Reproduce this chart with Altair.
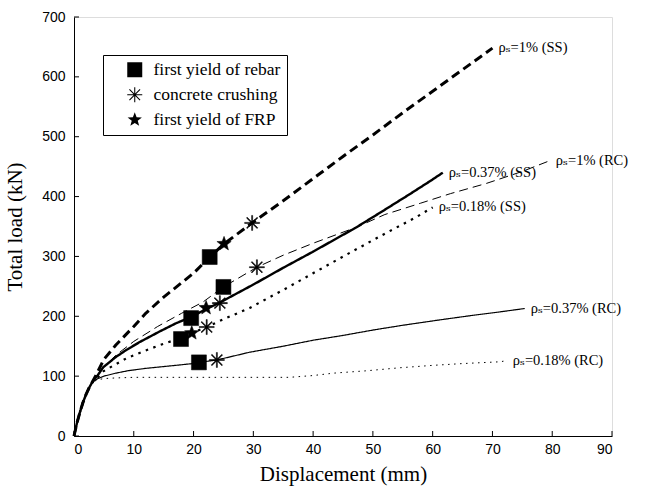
import altair as alt
import pandas as pd

# ---------------- data ----------------
# common initial (elastic) branch shared by every beam
init_x = [0, 0.5, 1, 1.5, 2, 2.5, 3]
init_y = [0, 22, 40, 56, 69, 80, 89]

ss1_x = [3.5, 4, 5, 7, 10, 12, 15, 20, 22.7, 25.1, 29.8, 35, 40, 45, 50, 55, 60, 65, 70]
ss1_y = [98, 108, 128, 152, 183, 205, 232, 272, 299, 321, 356, 393, 430, 467, 503, 540, 576, 612, 648]

rc1_x = [3.5, 4, 5, 7, 10, 14, 18, 21.6, 25, 30.6, 35, 40, 47.3, 52, 58, 63, 69, 75, 79.6]
rc1_y = [97, 104, 115, 135, 158, 183, 205, 224, 249, 282, 302, 322, 349, 370, 389, 405, 422, 442, 460]

ss037_x = [3.5, 4, 4.9, 7, 8.8, 11, 14.4, 17, 19.6, 22.1, 24.4, 30, 35, 40, 47.3, 52, 56, 59.6, 61.7]
ss037_y = [96, 102, 115, 132, 144, 157, 175, 188, 199, 212, 223, 253, 281, 308, 349, 378, 403, 426, 440]

ss018_x = [3.5, 4, 4.9, 7, 8.8, 11.5, 14.4, 17.9, 19.7, 22.2, 25, 29.4, 35, 40, 46.5, 52, 57.3, 60]
ss018_y = [94, 98, 108, 120, 130, 141, 152, 164, 172, 182, 195, 214, 244, 272, 308, 338, 366, 382]

rc037_x = [3.5, 4, 5, 7, 9, 12, 16, 19.9, 20.9, 23.9, 29.4, 35, 40, 45, 50, 55, 61.2, 67, 71, 75.4]
rc037_y = [93, 96, 100, 105, 109, 113, 117, 121, 123, 127, 140, 150, 160, 168, 177, 185, 194, 202, 207, 213]

rc018_x = [3.5, 4, 5, 7, 10, 20, 30, 36, 40, 43.4, 49, 54.5, 60, 65, 71.3, 72.4]
rc018_y = [92, 94, 96, 97, 98, 98, 98, 98, 101, 105, 109, 114, 118, 121, 124, 126]

series = ["1% (SS)", "1% (RC)", "0.37% (SS)", "0.18% (SS)", "0.37% (RC)", "0.18% (RC)"]
curves_x = [ss1_x, rc1_x, ss037_x, ss018_x, rc037_x, rc018_x]
curves_y = [ss1_y, rc1_y, ss037_y, ss018_y, rc037_y, rc018_y]

events = ["first yield of rebar", "concrete crushing", "first yield of FRP"]
rebar_x = [22.7, 25.0, 19.6, 17.9, 20.9]
rebar_y = [299, 249, 197, 162, 123]
crush_x = [29.8, 30.6, 24.4, 22.2, 23.9]
crush_y = [356, 282, 222, 182, 127]
frp_x = [25.1, 22.1, 19.7]
frp_y = [321, 214, 172]

x_ticks = [0, 10, 20, 30, 40, 50, 60, 70, 80, 90]
y_ticks = [0, 100, 200, 300, 400, 500, 600, 700]

# ---------------- tables ----------------
rows = []
for name, xs, ys in zip(series, curves_x, curves_y):
    allx = init_x + xs
    ally = init_y + ys
    for i, (a, b) in enumerate(zip(allx, ally)):
        rows.append({"series": name, "x": a, "y": b, "i": i})
df = pd.DataFrame(rows)

lab = pd.DataFrame({
    "series": series,
    "x": [c[-1] for c in curves_x],
    "y": [c[-1] for c in curves_y],
    "label": ["\u03c1\u209b=" + s for s in series],
})

pts = pd.DataFrame(
    [{"event": events[0], "x": a, "y": b} for a, b in zip(rebar_x, rebar_y)]
    + [{"event": events[1], "x": a, "y": b} for a, b in zip(crush_x, crush_y)]
    + [{"event": events[2], "x": a, "y": b} for a, b in zip(frp_x, frp_y)]
)
xt = pd.DataFrame({"v": x_ticks})
yt = pd.DataFrame({"v": y_ticks})

# ---------------- styles ----------------
dashes = [[9, 5], [9, 5], [1, 0], [2.5, 5.5], [1, 0], [1.5, 4.5]]
widths = [3, 1, 2.4, 2.2, 1.2, 1]
# asterisk drawn as four thin filled bars (same winding) so it shows with a fill only
asterisk = ("M-0.07,-1L0.07,-1L0.07,1L-0.07,1Z"
            "M-1,-0.07L1,-0.07L1,0.07L-1,0.07Z"
            "M-0.658,-0.757L0.757,0.658L0.658,0.757L-0.757,-0.658Z"
            "M-0.757,0.658L0.658,-0.757L0.757,-0.658L-0.658,0.757Z")
star = ("M0,-1L0.247,-0.34L0.951,-0.309L0.399,0.13L0.588,0.809L0,0.42"
        "L-0.588,0.809L-0.399,0.13L-0.951,-0.309L-0.247,-0.34Z")

serif = "Liberation Serif, Times New Roman, DejaVu Serif, serif"
sans = "Liberation Sans, Arial, sans-serif"

xscale = alt.Scale(domain=[0, 90], nice=False, zero=True)
yscale = alt.Scale(domain=[0, 700], nice=False, zero=True)

xaxis = alt.Axis(values=x_ticks, title="Displacement (mm)", grid=False, ticks=False,
                 labelPadding=6, labelFont=sans,
                 labelFontSize=14, titleFont=serif, titleFontSize=21,
                 titleFontWeight="normal", titlePadding=7, domainColor="black",
                 labelColor="black", titleColor="black")
yaxis = alt.Axis(values=y_ticks, title="Total load (kN)", grid=False, ticks=False,
                 labelPadding=9, labelFont=sans,
                 labelFontSize=14, titleFont=serif, titleFontSize=21,
                 titleFontWeight="normal", titlePadding=16, domainColor="black",
                 labelColor="black", titleColor="black")

X = alt.X("x:Q", scale=xscale, axis=xaxis)
Y = alt.Y("y:Q", scale=yscale, axis=yaxis)

layers = []
for name, d, w in zip(series, dashes, widths):
    layers.append(
        alt.Chart(df).transform_filter(alt.datum.series == name)
        .mark_line(color="black", strokeCap="butt", strokeJoin="round",
                   strokeWidth=w, strokeDash=d)
        .encode(x=X, y=Y, order="i:Q")
    )

xticks = alt.Chart(xt).mark_rule(color="black", strokeWidth=1).encode(
    x=alt.X("v:Q", scale=xscale, axis=xaxis), y=alt.value(419), y2=alt.value(414))
yticks = alt.Chart(yt).mark_rule(color="black", strokeWidth=1).encode(
    y=alt.Y("v:Q", scale=yscale, axis=yaxis), x=alt.value(0), x2=alt.value(5))

labels = alt.Chart(lab).mark_text(align="left", baseline="middle", dx=6, font=serif,
                                  fontSize=14.5, color="black").encode(
    x=X, y=Y, text="label:N"
)

leg = alt.Legend(
    title=None, orient="none", legendX=29, legendY=38,
    strokeColor="black", fillColor="white", padding=6,
    labelFont=serif, labelFontSize=17.5, labelColor="black",
    symbolStrokeColor="black", symbolStrokeWidth=0.5, symbolFillColor="black",
    symbolSize=225, symbolOpacity=1,
    rowPadding=6, labelOffset=10, symbolOffset=17,
)

points = alt.Chart(pts).mark_point(
    filled=True, fill="black", stroke="black", strokeWidth=0.5, opacity=1, size=225
).encode(
    x=X, y=Y,
    shape=alt.Shape("event:N", scale=alt.Scale(domain=events, range=["square", asterisk, star]), legend=leg),
)

chart = alt.layer(*layers, xticks, yticks, points, labels).properties(
    width=538, height=419,
    autosize=alt.AutoSizeParams(type="none"),
    padding={"left": 74, "top": 17, "right": 34, "bottom": 59},
).configure_view(stroke=None).configure_legend(
    labelFont=serif, labelFontSize=17.5, labelColor="black"
).configure(background="white")

chart.save("out.html", embed_options={"renderer": "svg", "actions": False})
